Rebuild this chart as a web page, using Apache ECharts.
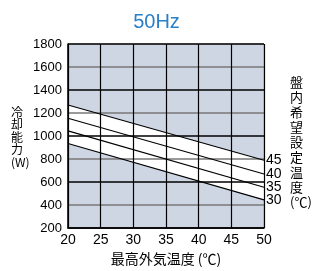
<!DOCTYPE html>
<html>
<head>
<meta charset="utf-8">
<script src="https://cdn.jsdelivr.net/npm/echarts@6/dist/echarts.min.js"></script>
<style>
  html, body { margin: 0; padding: 0; background: #fff; }
  #chart { width: 313px; height: 271px; }
</style>
</head>
<body>
<div id="chart"></div>
<script>
// 最高外気温度 (℃)
const outsideTemps = [20, 50];
// 盤内希望設定温度 -> 冷却能力 (W)
const setTemps = ['45', '40', '35', '30'];
const cap45 = [1270, 790];
const cap40 = [1155, 670];
const cap35 = [1045, 555];
const cap30 = [935, 445];

const FONT = '"Liberation Sans", Arial, sans-serif';
const CJK = '"Noto Sans CJK JP", sans-serif';
const BG = '#ced6e3';

const chart = echarts.init(document.getElementById('chart'));

const pairs = (ys) => outsideTemps.map((x, i) => [x, ys[i]]);
const allCaps = [cap45, cap40, cap35, cap30];

const lineSeries = setTemps.map((name, i) => ({
  name: name,
  type: 'line',
  z: 5,
  symbol: 'none',
  silent: true,
  lineStyle: { color: '#000', width: 1.2 },
  endLabel: {
    show: true,
    formatter: '{a}',
    distance: 2,
    color: '#000',
    fontSize: 14,
    fontFamily: FONT,
  },
  data: pairs(allCaps[i]),
}));

// white band between the 45 and 30 lines
const bandSeries = {
  type: 'custom',
  z: 2,
  silent: true,
  renderItem: (params, api) => {
    const top = pairs(cap45).map((p) => api.coord(p));
    const bottom = pairs(cap30).map((p) => api.coord(p)).reverse();
    return {
      type: 'polygon',
      shape: { points: top.concat(bottom) },
      style: { fill: '#ffffff' },
    };
  },
  data: [pairs(cap30)[0]],
};

const option = {
  animation: false,
  title: {
    text: '50Hz',
    left: 'center',
    top: 7,
    textStyle: { color: '#2a80c6', fontSize: 20, fontWeight: 'normal', fontFamily: FONT },
  },
  grid: {
    left: 68,
    right: 49,
    top: 44,
    bottom: 34,
    show: true,
    backgroundColor: BG,
  },
  xAxis: {
    type: 'value',
    min: 20,
    max: 50,
    interval: 5,
    z: 3,
    name: '最高外気温度 (℃)',
    nameLocation: 'middle',
    nameGap: 23,
    nameTextStyle: { color: '#000', fontSize: 14, fontFamily: CJK },
    axisLine: { show: true, lineStyle: { color: '#000', width: 1.5 } },
    axisTick: { show: false },
    axisLabel: { color: '#000', fontSize: 14, fontFamily: FONT, margin: 5 },
    splitLine: { lineStyle: { color: '#000', width: 1.2 } },
  },
  yAxis: {
    type: 'value',
    min: 200,
    max: 1800,
    interval: 200,
    z: 3,
    axisLine: { show: true, lineStyle: { color: '#000', width: 1.5 } },
    axisTick: { show: false },
    axisLabel: { color: '#000', fontSize: 13, fontFamily: FONT, margin: 6, formatter: (v) => String(v) },
    splitLine: { lineStyle: { color: ['#000', '#777'], width: 1.5 } },
  },
  graphic: [
    {
      type: 'text',
      left: 11,
      top: 106,
      style: {
        text: '冷\n却\n能\n力\n(W)',
        font: '12px ' + CJK,
        lineHeight: 12.5,
        align: 'center',
        fill: '#000',
      },
    },
    {
      type: 'text',
      left: 290,
      top: 75,
      style: {
        text: '盤\n内\n希\n望\n設\n定\n温\n度\n(℃)',
        font: '13px ' + CJK,
        lineHeight: 15,
        align: 'center',
        fill: '#000',
      },
    },
  ],
  series: [bandSeries, ...lineSeries],
};

chart.setOption(option);
</script>
</body>
</html>
